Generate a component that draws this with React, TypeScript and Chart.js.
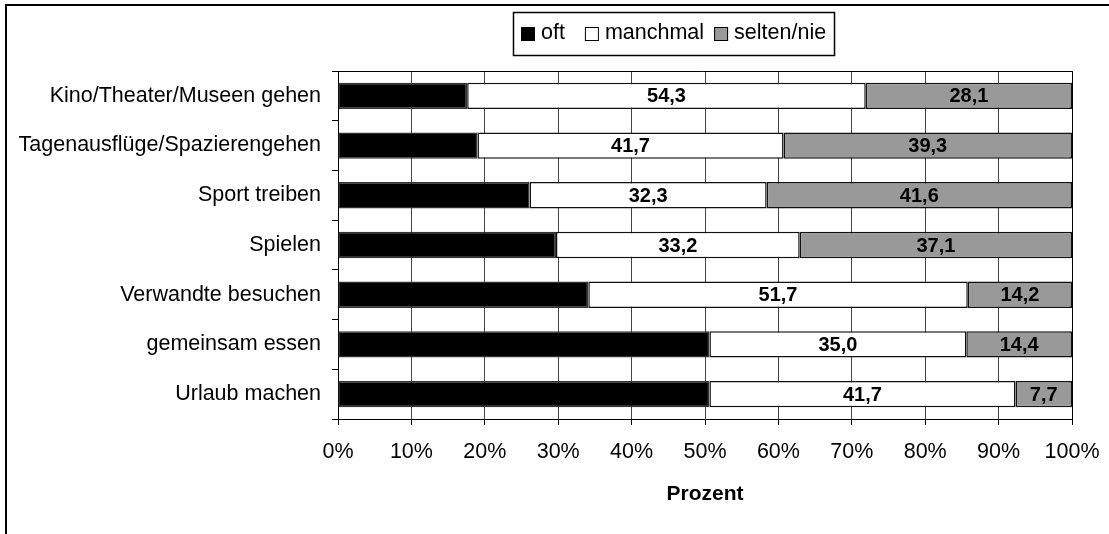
import React, { useEffect, useRef } from "react";
import { Chart, registerables } from "chart.js";

Chart.register(...registerables);

const categories = [
  "Kino/Theater/Museen gehen",
  "Tagenausflüge/Spazierengehen",
  "Sport treiben",
  "Spielen",
  "Verwandte besuchen",
  "gemeinsam essen",
  "Urlaub machen",
];
const oft = [17.6, 19.0, 26.1, 29.7, 34.1, 50.6, 50.6];
const manchmal = [54.3, 41.7, 32.3, 33.2, 51.7, 35.0, 41.7];
const seltenNie = [28.1, 39.3, 41.6, 37.1, 14.2, 14.4, 7.7];
const seriesNames = ["oft", "manchmal", "selten/nie"];
const seriesColors = ["#000000", "#ffffff", "#999999"];
const labelledSeries = [1, 2];
const xTicks = [0, 10, 20, 30, 40, 50, 60, 70, 80, 90, 100];
const axisTitle = "Prozent";

const FONT = "'Liberation Sans', Arial, sans-serif";

const frameAndLegend = {
  id: "frameAndLegend",
  beforeDraw(chart: any) {
    const ctx = chart.ctx;
    ctx.save();
    ctx.fillStyle = "#ffffff";
    ctx.fillRect(0, 0, chart.width, chart.height);
    ctx.strokeStyle = "#000";
    ctx.lineWidth = 2;
    ctx.strokeRect(6, 5, chart.width + 50, chart.height + 50);
    ctx.restore();
  },
  afterDraw(chart: any) {
    const ctx = chart.ctx;
    const a = chart.chartArea;
    ctx.save();
    // plot area top/right border
    ctx.strokeStyle = "#000";
    ctx.lineWidth = 1;
    ctx.beginPath();
    ctx.moveTo(a.left - 6, Math.round(a.top) + 0.5);
    ctx.lineTo(Math.round(a.right) + 0.5, Math.round(a.top) + 0.5);
    ctx.lineTo(Math.round(a.right) + 0.5, a.bottom);
    ctx.stroke();

    // legend
    ctx.font = `21.5px ${FONT}`;
    ctx.textBaseline = "middle";
    ctx.textAlign = "left";
    const bx = 513.5, by = 12.5, bw = 321, bh = 43;
    ctx.lineWidth = 1.5;
    ctx.strokeStyle = "#000";
    ctx.strokeRect(bx, by, bw, bh);
    const cy = 33;
    let x = 521;
    const gaps = [20, 10, 0];
    chart.data.datasets.forEach((ds: any, i: number) => {
      ctx.fillStyle = ds.backgroundColor;
      ctx.fillRect(x, cy - 6, 14, 14);
      ctx.lineWidth = 1;
      ctx.strokeStyle = "#000";
      ctx.strokeRect(x + 0.5, cy - 5.5, 13, 13);
      ctx.fillStyle = "#000";
      ctx.fillText(ds.label, x + 20, cy);
      x += 20 + ctx.measureText(ds.label).width + gaps[i];
    });

    // value labels
    ctx.font = `bold 20px ${FONT}`;
    ctx.textAlign = "center";
    ctx.textBaseline = "middle";
    ctx.fillStyle = "#000";
    labelledSeries.forEach((di) => {
      const meta = chart.getDatasetMeta(di);
      meta.data.forEach((bar: any, j: number) => {
        const v = chart.data.datasets[di].data[j];
        const cx = (bar.x + bar.base) / 2;
        ctx.fillText(v.toFixed(1).replace(".", ","), cx, bar.y + 1);
      });
    });
    ctx.restore();
  },
};

export default function App() {
  const ref = useRef<HTMLCanvasElement | null>(null);
  useEffect(() => {
    document.body.style.margin = "0";
    const canvas = ref.current!;
    const values = [oft, manchmal, seltenNie];
    const chart = new Chart(canvas, {
      type: "bar",
      data: {
        labels: categories,
        datasets: values.map((d, i) => ({
          label: seriesNames[i],
          data: d,
          backgroundColor: seriesColors[i],
          borderColor: i === 0 ? "#333" : "#111",
          borderWidth: 1.5,
          borderSkipped: false,
          barPercentage: 0.53,
          categoryPercentage: 1,
        })),
      },
      options: {
        indexAxis: "y",
        animation: false,
        responsive: false,
        devicePixelRatio: 1,
        layout: { padding: { left: 0, right: 37, top: 71, bottom: 0 } },
        plugins: {
          legend: { display: false },
          tooltip: { enabled: false },
        },
        scales: {
          x: {
            stacked: true,
            min: 0,
            max: 100,
            afterFit: (s: any) => {
              s.height = 115;
              s.paddingLeft = 0;
              s.paddingRight = 0;
            },
            afterBuildTicks: (s: any) => {
              s.ticks = xTicks.map((v) => ({ value: v }));
            },
            ticks: {
              color: "#000",
              font: { family: FONT, size: 21.5 },
              padding: 14,
              callback: (v: any) => v + "%",
              maxRotation: 0,
              autoSkip: false,
            },
            grid: {
              color: "#444",
              lineWidth: 1,
              tickLength: 6,
              tickColor: "#000",
              drawOnChartArea: true,
            },
            border: { display: true, color: "#000", width: 1 },
            title: {
              display: true,
              text: axisTitle,
              color: "#000",
              font: { family: FONT, size: 21, weight: "bold" },
              padding: { top: 0, bottom: 27 },
            },
          },
          y: {
            stacked: true,
            afterFit: (s: any) => {
              s.width = 338;
              s.paddingTop = 0;
              s.paddingBottom = 0;
            },
            ticks: {
              color: "#000",
              font: { family: FONT, size: 21.5 },
              padding: 11,
              autoSkip: false,
            },
            grid: {
              offset: true,
              drawOnChartArea: false,
              tickLength: 6,
              color: "#000",
            },
            border: { display: true, color: "#000", width: 1 },
          },
        },
      },
      plugins: [frameAndLegend],
    });
    return () => chart.destroy();
  }, []);
  return (
    <div style={{ width: 1109, height: 534 }}>
      <canvas ref={ref} width={1109} height={534} />
    </div>
  );
}
